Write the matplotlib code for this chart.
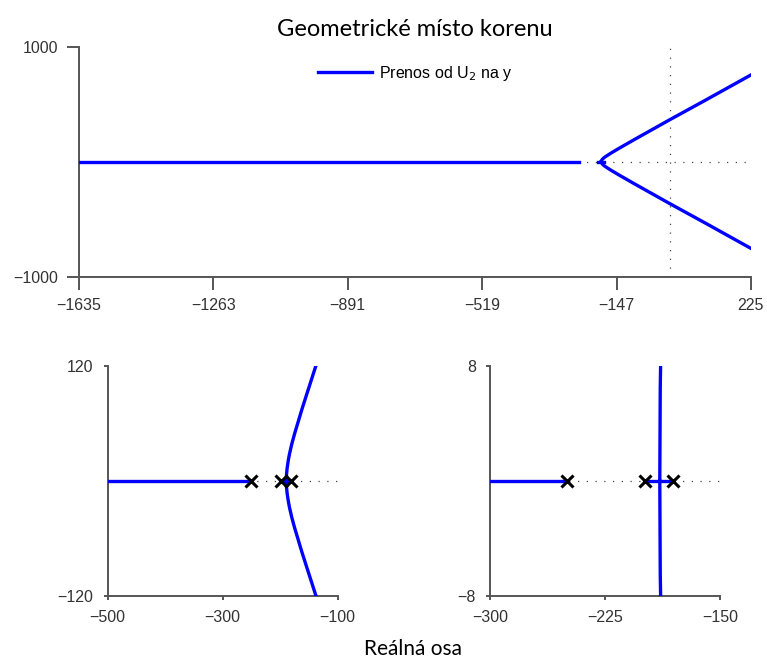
import matplotlib as mpl
mpl.rcParams['font.family'] = ['Liberation Sans', 'DejaVu Sans']
import matplotlib.pyplot as plt

# Poles of the open loop (x marks)
poles_re = [-250, -199, -181]
poles_im = [0, 0, 0]

# Real-axis parts of the locus
left_branch_re = [-1700, -250]
mid_branch_re = [-199, -181]

# Complex branch (upper half, lower half is its mirror)
branch_re = [-189.3, -189.0, -188.0, -186.0, -184.0, -180.0, -175.0, -168.5, -162.0,
             -154.0, -147.0, -139.5, -120.0, -100.0, -50.0, 0.0, 100.0, 225.0]
branch_im = [0.0, 6.5, 13.0, 21.0, 27.5, 38.0, 49.0, 62.0, 75.0,
             90.0, 103.0, 117.0, 152.0, 188.0, 276.0, 364.0, 536.0, 754.0]

top_xticks = [-1635, -1263, -891, -519, -147, 225]
top_yticks = [-1000, 1000]
bl_xticks = [-500, -300, -100]
bl_yticks = [-120, 120]
br_xticks = [-300, -225, -150]
br_yticks = [-8, 8]

BLUE = '#0000ff'
SPINE = '#555555'


def style_axes(ax, xlim, ylim, xticks, yticks, ticklen, tickpad):
    ax.set_xlim(*xlim)
    ax.set_ylim(*ylim)
    ax.set_xticks(xticks)
    ax.set_yticks(yticks)
    for s in ['top', 'right']:
        ax.spines[s].set_visible(False)
    for s in ['left', 'bottom']:
        ax.spines[s].set_color(SPINE)
        ax.spines[s].set_linewidth(1.4)
    ax.tick_params(direction='out', length=ticklen, width=1.4, color=SPINE,
                   labelsize=11.5, labelcolor='#333333', pad=tickpad)


def draw_locus(ax, with_poles=True):
    dots = dict(color='#444444', lw=0.9, linestyle=(0, (1, 6)), zorder=1)
    ax.axhline(0, **dots)
    ax.axvline(0, **dots)
    line, = ax.plot(left_branch_re, [0, 0], color=BLUE, lw=2.4, zorder=3)
    ax.plot(mid_branch_re, [0, 0], color=BLUE, lw=2.4, zorder=3)
    ax.plot(branch_re, branch_im, color=BLUE, lw=2.4, zorder=3, solid_joinstyle='round')
    ax.plot(branch_re, [-v for v in branch_im], color=BLUE, lw=2.4, zorder=3,
            solid_joinstyle='round')
    if with_poles:
        ax.plot(poles_re, poles_im, lw=0, marker='x', ms=9, mew=2.2, color='black', zorder=5)
    return line


fig = plt.figure(figsize=(7.67, 6.6), dpi=100)

ax_top = fig.add_axes([0.103, 0.5808, 0.876, 0.3485])
ln = draw_locus(ax_top, with_poles=False)
style_axes(ax_top, (-1635, 225), (-1000, 1000), top_xticks, top_yticks, 9, 6.3)
ax_top.set_title('Geometrické místo korenu', fontsize=17, family=['Lato', 'DejaVu Sans'], pad=8)
ax_top.legend([ln], [r'Prenos od U$_2$ na y'], loc='center left', frameon=False,
              fontsize=11.5, handlelength=3.4, handletextpad=0.4,
              borderpad=0, borderaxespad=0, bbox_to_anchor=(0.3557, 0.885))

ax_bl = fig.add_axes([0.1404, 0.0974, 0.2999, 0.3485])
draw_locus(ax_bl)
style_axes(ax_bl, (-500, -100), (-120, 120), bl_xticks, bl_yticks, 3.2, 7)

ax_br = fig.add_axes([0.6389, 0.0974, 0.2999, 0.3485])
draw_locus(ax_br)
style_axes(ax_br, (-300, -150), (-8, 8), br_xticks, br_yticks, 3.2, 7)

fig.text(0.539, 0.016, 'Reálná osa', ha='center', va='center', fontsize=15,
         family=['Lato', 'DejaVu Sans'])

fig.savefig('out.png', dpi=100)
plt.close()
